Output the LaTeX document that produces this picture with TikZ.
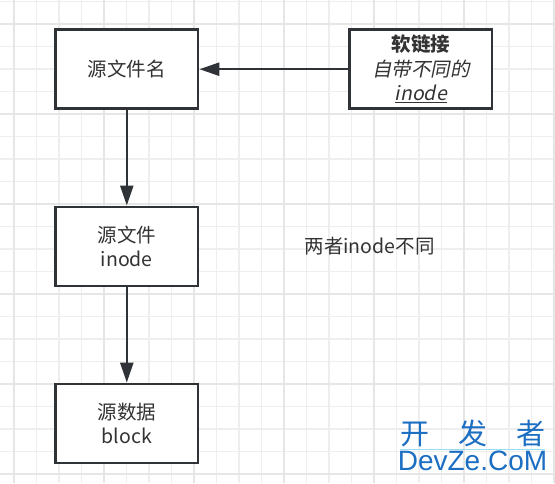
\documentclass[tikz,border=0pt]{standalone}
\usepackage{fontspec}
\setmainfont{Noto Sans CJK SC}
\newfontfamily\slantcjk[FakeSlant=0.2]{Noto Sans CJK SC}
\newfontfamily\markfont{Liberation Sans}
\usetikzlibrary{arrows.meta,positioning}
\definecolor{ink}{HTML}{2F3337}
\definecolor{txt}{HTML}{333333}
\definecolor{minor}{HTML}{EEEEEE}
\definecolor{major}{HTML}{E6E6E6}
\definecolor{mark}{HTML}{1B6EC2}
\definecolor{markline}{HTML}{9ADCF2}

\begin{document}
\begin{tikzpicture}[x=1pt,y=-1pt,node distance=95.5pt and 149pt,
 box/.style={draw=ink,fill=white,line width=2.6pt,align=center,text=txt,font=\fontsize{19.5}{24.5}\selectfont,minimum width=142.5pt,minimum height=79pt,inner sep=0pt},
 arr/.style={-{Triangle[length=20pt,width=13pt]},draw=ink,line width=2.5pt}]
\useasboundingbox (0,0) rectangle (555,483);
% grid
\foreach \k in {0,...,24} \draw[minor,line width=1.1pt] (14+22.5*\k,0) -- (14+22.5*\k,483);
\foreach \k in {0,...,21} \draw[minor,line width=1.1pt] (0,1.5+22.5*\k) -- (555,1.5+22.5*\k);
\foreach \k in {0,...,6} \draw[major,line width=1.2pt] (14+90*\k,0) -- (14+90*\k,483);
\foreach \k in {0,...,5} \draw[major,line width=1.2pt] (0,24+90*\k) -- (555,24+90*\k);
% boxes
\node[box] (src) at (126.8,69.2) {源文件名};
\node[box,right=of src] (soft) {\textbf{软链接}\\{\slantcjk 自带不同的}\\{\slantcjk\underline{inode}}};
\node[box,below=of src] (ino) {源文件\\inode};
\node[box,below=of ino] (blk) {源数据\\block};
\node[right=105pt of ino,inner sep=0pt,text=txt,font=\fontsize{19.5}{24}\selectfont] (note) {两者inode不同};
\draw[arr] (soft)--(src);\draw[arr] (src)--(ino);\draw[arr] (ino)--(blk);
% watermark
\node[text=mark,font=\fontsize{29}{29}\selectfont,inner sep=0pt] (wmcn) at (472.5,433) {开\quad 发\quad 者};
\draw[markline,line width=1pt] ([yshift=-3pt]wmcn.south west) -- ([yshift=-3pt]wmcn.south east);
\node[text=mark,font=\markfont\fontsize{28}{28}\selectfont,inner sep=0pt] (wmen) at (472.5,461) {DevZe.CoM};
\end{tikzpicture}
\end{document}
